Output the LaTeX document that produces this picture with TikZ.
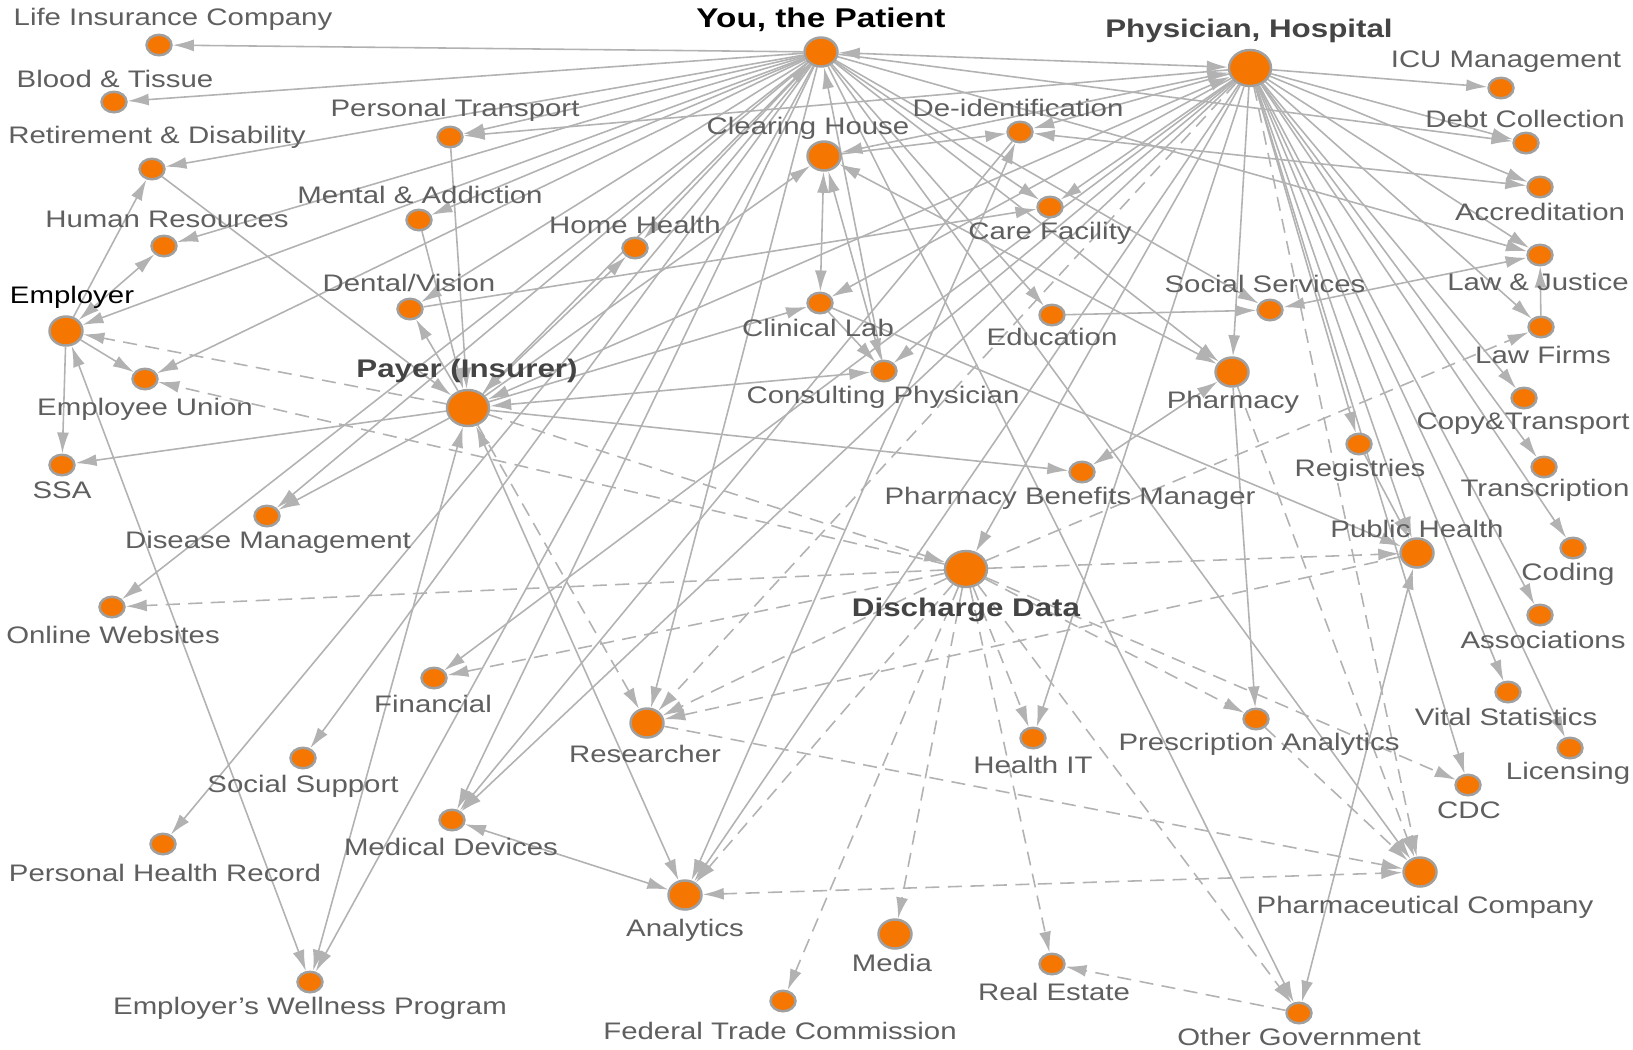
\documentclass[tikz,border=0pt]{standalone}
\usepackage{fontspec}
\setmainfont{Liberation Sans}[FakeStretch=1.23]
\usetikzlibrary{arrows.meta,shapes.geometric,backgrounds}

\definecolor{dmorange}{RGB}{245,118,0}
\definecolor{dmrim}{RGB}{160,160,160}
\definecolor{dmline}{RGB}{178,178,178}
\definecolor{dmtext}{RGB}{95,95,95}
\definecolor{dmbold}{RGB}{68,68,68}

\tikzset{
  entity/.style={ellipse,draw=dmrim,line width=0.7pt,fill=dmorange,inner sep=0pt,
                 minimum width=2.5mm,minimum height=2.05mm},
  entitym/.style={entity,minimum width=3.3mm,minimum height=2.9mm},
  entityb/.style={entity,minimum width=4.2mm,minimum height=3.6mm},
  lbl/.style={text=dmtext,inner sep=0pt,font=\fontsize{6.8}{8}\selectfont},
  hub/.style={text=dmbold,inner sep=0pt,font=\bfseries\fontsize{7.25}{9}\selectfont},
  con/.style={color=dmline,line width=0.45pt},
  dsh/.style={con,dash pattern=on 4pt off 2.4pt},
}

\begin{document}
\begin{tikzpicture}[x=0.1mm,y=-0.1mm,>={Latex[length=6pt,width=3.4pt]}]
\useasboundingbox (0,0) rectangle (1633,1049);

% entities
\node[entitym] (pat)        at (821,52)   {};
\node[entityb] (phys)       at (1250,68)  {};
\node[entityb] (payer)      at (468,408)  {};
\node[entityb] (disch)      at (966,569)  {};
\node[entitym] (clear)      at (824,156)  {};
\node[entity]  (deid)       at (1020,132) {};
\node[entity]  (care)       at (1050,207) {};
\node[entity]  (clin)       at (820,303)  {};
\node[entity]  (educ)       at (1052,315) {};
\node[entity]  (consult)    at (884,371)  {};
\node[entity]  (socserv)    at (1270,310) {};
\node[entitym] (pharm)      at (1232,372) {};
\node[entity]  (pbm)        at (1082,472) {};
\node[entity]  (life)       at (159,45)   {};
\node[entity]  (blood)      at (114,102)  {};
\node[entity]  (retire)     at (152,169)  {};
\node[entity]  (hr)         at (164,246)  {};
\node[entitym] (employer)   at (66,331)   {};
\node[entity]  (union)      at (145,379)  {};
\node[entity]  (ssa)        at (62,465)   {};
\node[entity]  (disease)    at (267,516)  {};
\node[entity]  (online)     at (112,607)  {};
\node[entity]  (ptrans)     at (450,137)  {};
\node[entity]  (mental)     at (419,220)  {};
\node[entity]  (dental)     at (410,309)  {};
\node[entity]  (home)       at (635,248)  {};
\node[entity]  (financial)  at (434,678)  {};
\node[entity]  (socsup)     at (303,758)  {};
\node[entity]  (phr)        at (163,844)  {};
\node[entity]  (wellness)   at (310,982)  {};
\node[entity]  (meddev)     at (452,820)  {};
\node[entitym] (analytics)  at (685,895)  {};
\node[entitym] (research)   at (647,723)  {};
\node[entity]  (ftc)        at (783,1001) {};
\node[entitym] (media)      at (895,934)  {};
\node[entity]  (realest)    at (1052,964) {};
\node[entity]  (healthit)   at (1033,738) {};
\node[entity]  (rxanal)     at (1256,719) {};
\node[entity]  (othergov)   at (1299,1013){};
\node[entitym] (pharmaco)   at (1420,872) {};
\node[entity]  (cdc)        at (1468,785) {};
\node[entitym] (pubhealth)  at (1417,553) {};
\node[entity]  (registries) at (1359,444) {};
\node[entity]  (icu)        at (1501,88)  {};
\node[entity]  (debt)       at (1526,143) {};
\node[entity]  (accred)     at (1540,187) {};
\node[entity]  (law)        at (1540,255) {};
\node[entity]  (lawfirms)   at (1541,327) {};
\node[entity]  (copy)       at (1524,398) {};
\node[entity]  (transcr)    at (1544,467) {};
\node[entity]  (coding)     at (1573,548) {};
\node[entity]  (assoc)      at (1540,615) {};
\node[entity]  (vital)      at (1508,692) {};
\node[entity]  (licensing)  at (1570,748) {};

% labels
\node[hub,text=black,font=\bfseries\fontsize{7.7}{9}\selectfont] (patL) at (821,20) {You, the Patient};
\node[hub]  (physL)       at (1249,31)  {Physician, Hospital};
\node[hub]  (payerL)      at (467,371)  {Payer (Insurer)};
\node[hub]  (dischL)      at (966,610)  {Discharge Data};
\node[lbl]  (clearL)      at (808,128)  {Clearing House};
\node[lbl]  (deidL)       at (1018,108) {De-identification};
\node[lbl]  (careL)       at (1050,233) {Care Facility};
\node[lbl]  (clinL)       at (818,328)  {Clinical Lab};
\node[lbl]  (educL)       at (1052,337) {Education};
\node[lbl]  (consultL)    at (883,397)  {Consulting Physician};
\node[lbl]  (socservL)    at (1265,284) {Social Services};
\node[lbl]  (pharmL)      at (1233,402) {Pharmacy};
\node[lbl]  (pbmL)        at (1070,498) {Pharmacy Benefits Manager};
\node[lbl]  (lifeL)       at (173,19)   {Life Insurance Company};
\node[lbl]  (bloodL)      at (115,79)   {Blood \& Tissue};
\node[lbl]  (retireL)     at (157,137)  {Retirement \& Disability};
\node[lbl]  (hrL)         at (167,219)  {Human Resources};
\node[lbl,text=black] (employerL) at (72,297) {Employer};
\node[lbl]  (unionL)      at (145,409)  {Employee Union};
\node[lbl]  (ssaL)        at (62,490)   {SSA};
\node[lbl]  (diseaseL)    at (268,542)  {Disease Management};
\node[lbl]  (onlineL)     at (113,635)  {Online Websites};
\node[lbl]  (ptransL)     at (455,110)  {Personal Transport};
\node[lbl]  (mentalL)     at (420,195)  {Mental \& Addiction};
\node[lbl]  (dentalL)     at (409,283)  {Dental/Vision};
\node[lbl]  (homeL)       at (635,225)  {Home Health};
\node[lbl]  (financialL)  at (433,704)  {Financial};
\node[lbl]  (socsupL)     at (303,786)  {Social Support};
\node[lbl]  (phrL)        at (165,873)  {Personal Health Record};
\node[lbl]  (wellnessL)   at (310,1008) {Employer’s Wellness Program};
\node[lbl]  (meddevL)     at (451,847)  {Medical Devices};
\node[lbl]  (analyticsL)  at (685,930)  {Analytics};
\node[lbl]  (researchL)   at (645,754)  {Researcher};
\node[lbl]  (ftcL)        at (780,1031) {Federal Trade Commission};
\node[lbl]  (mediaL)      at (892,963)  {Media};
\node[lbl]  (realestL)    at (1054,992) {Real Estate};
\node[lbl]  (healthitL)   at (1033,765) {Health IT};
\node[lbl]  (rxanalL)     at (1259,744) {Prescription Analytics};
\node[lbl]  (othergovL)   at (1299,1037){Other Government};
\node[lbl]  (pharmacoL)   at (1425,907) {Pharmaceutical Company};
\node[lbl]  (cdcL)        at (1469,810) {CDC};
\node[lbl]  (pubhealthL)  at (1417,529) {Public Health};
\node[lbl]  (registriesL) at (1360,470) {Registries};
\node[lbl]  (icuL)        at (1506,62)  {ICU Management};
\node[lbl]  (debtL)       at (1525,119) {Debt Collection};
\node[lbl]  (accredL)     at (1540,212) {Accreditation};
\node[lbl]  (lawL)        at (1538,282) {Law \& Justice};
\node[lbl]  (lawfirmsL)   at (1543,355) {Law Firms};
\node[lbl]  (copyL)       at (1523,424) {Copy\&Transport};
\node[lbl]  (transcrL)    at (1545,490) {Transcription};
\node[lbl]  (codingL)     at (1568,574) {Coding};
\node[lbl]  (assocL)      at (1543,640) {Associations};
\node[lbl]  (vitalL)      at (1506,717) {Vital Statistics};
\node[lbl]  (licensingL)  at (1568,773) {Licensing};

\begin{pgfonlayer}{background}
% flows from the patient
\draw[con,->]  (pat) edge (life);
\draw[con,->]  (pat) edge (blood);
\draw[con,->]  (pat) edge (retire);
\draw[con,->]  (pat) edge (ptrans);
\draw[con,->]  (pat) edge (hr);
\draw[con,->]  (pat) edge (mental);
\draw[con,->]  (pat) edge (employer);
\draw[con,->]  (pat) edge (union);
\draw[con,->]  (pat) edge (dental);
\draw[con,->]  (pat) edge (disease);
\draw[con,->]  (pat) edge (online);
\draw[con,->]  (pat) edge (phr);
\draw[con,->]  (pat) edge (socsup);
\draw[con,->]  (pat) edge (wellness);
\draw[con,->]  (pat) edge (meddev);
\draw[con,->]  (pat) edge (research);
\draw[con,<->] (pat) edge (payer);
\draw[con,<->] (pat) edge (phys);
\draw[con,->]  (pat) edge (home);
\draw[con,->]  (pat) edge (care);
\draw[con,->]  (pat) edge (educ);
\draw[con,->]  (pat) edge (socserv);
\draw[con,->]  (pat) edge (pharm);
\draw[con,->]  (pat) edge (pharmaco);
\draw[con,->]  (pat) edge (othergov);
\draw[con,->]  (pat) edge (debt);
\draw[con,->]  (pat) edge (law);
\draw[con,->]  (consult) edge (pat);
% flows from the physician
\draw[con,->]  (phys) edge (icu);
\draw[con,->]  (phys) edge (debt);
\draw[con,->]  (phys) edge (accred);
\draw[con,->]  (phys) edge (law);
\draw[con,->]  (phys) edge (lawfirms);
\draw[con,->]  (phys) edge (copy);
\draw[con,->]  (phys) edge (transcr);
\draw[con,->]  (phys) edge (coding);
\draw[con,->]  (phys) edge (assoc);
\draw[con,->]  (phys) edge (vital);
\draw[con,->]  (phys) edge (licensing);
\draw[con,->]  (phys) edge (cdc);
\draw[con,->]  (phys) edge (pubhealth);
\draw[con,->]  (phys) edge (registries);
\draw[con,->]  (phys) edge (pharm);
\draw[con,->]  (phys) edge (healthit);
\draw[con,->]  (phys) edge (analytics);
\draw[con,->]  (phys) edge (meddev);
\draw[con,->]  (phys) edge (disch);
\draw[con,->]  (phys) edge (consult);
\draw[con,->]  (phys) edge (clin);
\draw[con,->]  (phys) edge (care);
\draw[con,->]  (phys) edge (deid);
\draw[con,<->] (phys) edge (clear);
\draw[con,->]  (phys) edge (ptrans);
\draw[con,<->] (phys) edge (payer);
\draw[con,->]  (phys) edge (financial);
% middle of the map
\draw[con,<->] (clear) edge (clin);
\draw[con,<->] (clear) edge (consult);
\draw[con,->]  (clear) edge (deid);
\draw[con,<->] (clear) edge (pharm);
\draw[con,->]  (payer) edge (clear);
\draw[con,<->] (deid) edge (accred);
\draw[con,<->] (deid) edge (analytics);
\draw[con,->]  (deid) edge (meddev);
\draw[con,->]  (clin) edge (consult);
\draw[con,->]  (clin) edge (pubhealth);
\draw[con,->]  (payer) edge (clin);
\draw[con,->]  (dental) edge (care);
\draw[con,<->] (payer) edge (consult);
\draw[con,->]  (payer) edge (pbm);
\draw[con,<->] (pbm) edge (pharm);
\draw[con,->]  (pharm) edge (rxanal);
\draw[con,->]  (educ) edge (socserv);
\draw[con,<->] (law) edge (socserv);
\draw[con,->]  (lawfirms) edge (law);
\draw[con,->]  (registries) edge (pubhealth);
\draw[con,<->] (pubhealth) edge (othergov);
% left side
\draw[con,->]  (payer) edge (ssa);
\draw[con,->]  (employer) edge (ssa);
\draw[con,->]  (employer) edge (union);
\draw[con,->]  (employer) edge (retire);
\draw[con,<->] (employer) edge (hr);
\draw[con,<->] (employer) edge (wellness);
\draw[con,<->] (payer) edge (wellness);
\draw[con,->]  (retire) edge (payer);
\draw[con,->]  (ptrans) edge (payer);
\draw[con,->]  (mental) edge (payer);
\draw[con,->]  (payer) edge (dental);
\draw[con,->]  (payer) edge (disease);
\draw[con,->]  (payer) edge (home);
\draw[con,<->] (payer) edge (analytics);
\draw[con,<->] (meddev) edge (analytics);
% de-identified flows
\draw[dsh,->]  (payer) edge (employer);
\draw[dsh,->]  (payer) edge (disch);
\draw[dsh,->]  (payer) edge (research);
\draw[dsh,->]  (phys) edge (research);
\draw[dsh,->]  (phys) edge (pharmaco);
\draw[dsh,->]  (disch) edge (union);
\draw[dsh,->]  (disch) edge (online);
\draw[dsh,->]  (disch) edge (financial);
\draw[dsh,->]  (disch) edge (research);
\draw[dsh,->]  (disch) edge (analytics);
\draw[dsh,->]  (disch) edge (ftc);
\draw[dsh,->]  (disch) edge (media);
\draw[dsh,->]  (disch) edge (realest);
\draw[dsh,->]  (disch) edge (healthit);
\draw[dsh,->]  (disch) edge (rxanal);
\draw[dsh,->]  (disch) edge (cdc);
\draw[dsh,->]  (disch) edge (othergov);
\draw[dsh,->]  (disch) edge (pubhealth);
\draw[dsh,->]  (disch) edge (lawfirms);
\draw[dsh,->]  (pharm) edge (pharmaco);
\draw[dsh,->]  (rxanal) edge (pharmaco);
\draw[dsh,->]  (research) edge (pharmaco);
\draw[dsh,->]  (pubhealth) edge (research);
\draw[dsh,<->] (analytics) edge (pharmaco);
\draw[dsh,->]  (othergov) edge (realest);
\end{pgfonlayer}
\end{tikzpicture}
\end{document}
